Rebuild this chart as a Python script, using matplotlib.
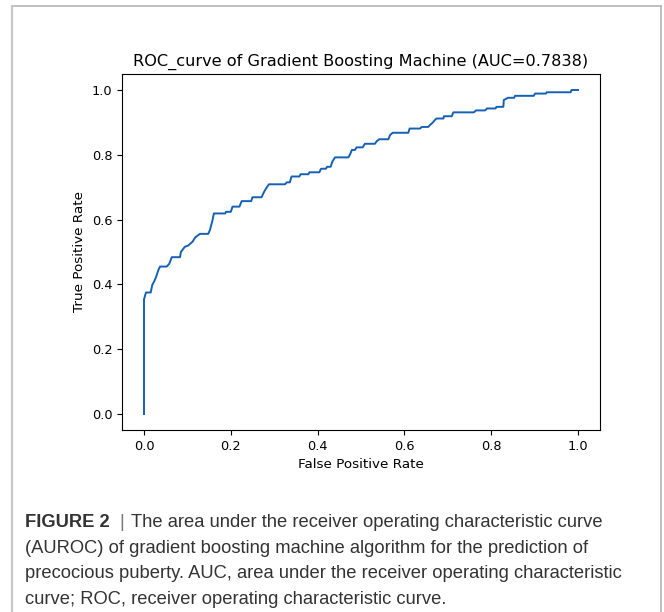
import matplotlib
matplotlib.use("Agg")
import matplotlib.pyplot as plt
from matplotlib.lines import Line2D

# ROC curve vertices
fpr = [0.0, 0.0, 0.0046, 0.0154, 0.019, 0.023, 0.0276, 0.033, 0.037, 0.052,
       0.058, 0.064, 0.083, 0.085, 0.094, 0.102, 0.112, 0.118, 0.129, 0.148,
       0.152, 0.158, 0.161, 0.187, 0.189, 0.200, 0.204, 0.220, 0.225, 0.247,
       0.250, 0.271, 0.275, 0.279, 0.284, 0.288, 0.325, 0.329, 0.336, 0.340,
       0.358, 0.361, 0.379, 0.381, 0.404, 0.408, 0.419, 0.422, 0.430, 0.434,
       0.440, 0.471, 0.475, 0.479, 0.486, 0.490, 0.504, 0.509, 0.532, 0.537,
       0.542, 0.563, 0.567, 0.573, 0.609, 0.612, 0.636, 0.640, 0.655, 0.659,
       0.665, 0.670, 0.674, 0.690, 0.691, 0.709, 0.713, 0.760, 0.765, 0.786,
       0.790, 0.810, 0.812, 0.828, 0.829, 0.839, 0.853, 0.855, 0.898, 0.901,
       0.926, 0.928, 0.983, 0.985, 1.0]
tpr = [0.0, 0.354, 0.375, 0.375, 0.398, 0.408, 0.422, 0.444, 0.455, 0.455,
       0.463, 0.484, 0.484, 0.500, 0.516, 0.520, 0.532, 0.545, 0.556, 0.556,
       0.568, 0.599, 0.619, 0.619, 0.624, 0.624, 0.640, 0.640, 0.657, 0.657,
       0.669, 0.669, 0.681, 0.691, 0.702, 0.709, 0.709, 0.715, 0.715, 0.733,
       0.733, 0.740, 0.740, 0.746, 0.746, 0.757, 0.757, 0.763, 0.763, 0.779,
       0.792, 0.792, 0.802, 0.815, 0.815, 0.823, 0.823, 0.834, 0.834, 0.843,
       0.848, 0.848, 0.861, 0.868, 0.868, 0.881, 0.881, 0.886, 0.886, 0.892,
       0.899, 0.907, 0.912, 0.912, 0.919, 0.919, 0.931, 0.931, 0.937, 0.937,
       0.943, 0.943, 0.948, 0.948, 0.969, 0.976, 0.976, 0.982, 0.982, 0.989,
       0.989, 0.993, 0.993, 1.0, 1.0]

auc = 0.7838
title = "ROC_curve of Gradient Boosting Machine (AUC=%.4f)" % auc
caption_bold = "FIGURE 2"
caption_lines = [
    "The area under the receiver operating characteristic curve",
    "(AUROC) of gradient boosting machine algorithm for the prediction of",
    "precocious puberty. AUC, area under the receiver operating characteristic",
    "curve; ROC, receiver operating characteristic curve.",
]

W, H = 664, 612
fig = plt.figure(figsize=(W / 100, H / 100), dpi=100)
fig.patch.set_facecolor("white")

ax = fig.add_axes([122.3 / W, 1 - 430.2 / H, 477.4 / W, 356.4 / H])
ax.plot(fpr, tpr, color="#1560b5", linewidth=1.4)
ax.set_title(title, fontsize=11.6)
ax.set_xlabel("False Positive Rate", fontsize=9.7)
ax.set_ylabel("True Positive Rate", fontsize=9.7)
ax.tick_params(labelsize=9.3)
ax.set_xticks([0.0, 0.2, 0.4, 0.6, 0.8, 1.0])
ax.set_yticks([0.0, 0.2, 0.4, 0.6, 0.8, 1.0])

# page frame
fc = "#b4b4b4"
fig.add_artist(Line2D([12 / W, 661 / W], [1 - 6 / H, 1 - 6 / H], color=fc, lw=1.2, transform=fig.transFigure))
fig.add_artist(Line2D([12 / W, 12 / W], [1 - 6 / H, 0], color="#c8c8c8", lw=1.6, transform=fig.transFigure))
fig.add_artist(Line2D([661 / W, 661 / W], [1 - 6 / H, 0], color=fc, lw=1.2, transform=fig.transFigure))

# caption
cap_font = dict(family="Liberation Sans", fontsize=13.2, color="#333333", va="baseline")
x0 = 25 / W
ys = [527, 553, 578, 604]
fig.text(x0, 1 - ys[0] / H, caption_bold, fontweight="bold", **cap_font)
fig.text(119 / W, 1 - ys[0] / H, "|", family="Liberation Sans", fontsize=13.2,
         color="#777777", va="baseline")
fig.text(131 / W, 1 - ys[0] / H, caption_lines[0], **cap_font)
for line, y in zip(caption_lines[1:], ys[1:]):
    fig.text(x0, 1 - y / H, line, **cap_font)

plt.savefig("out.png", dpi=100)
